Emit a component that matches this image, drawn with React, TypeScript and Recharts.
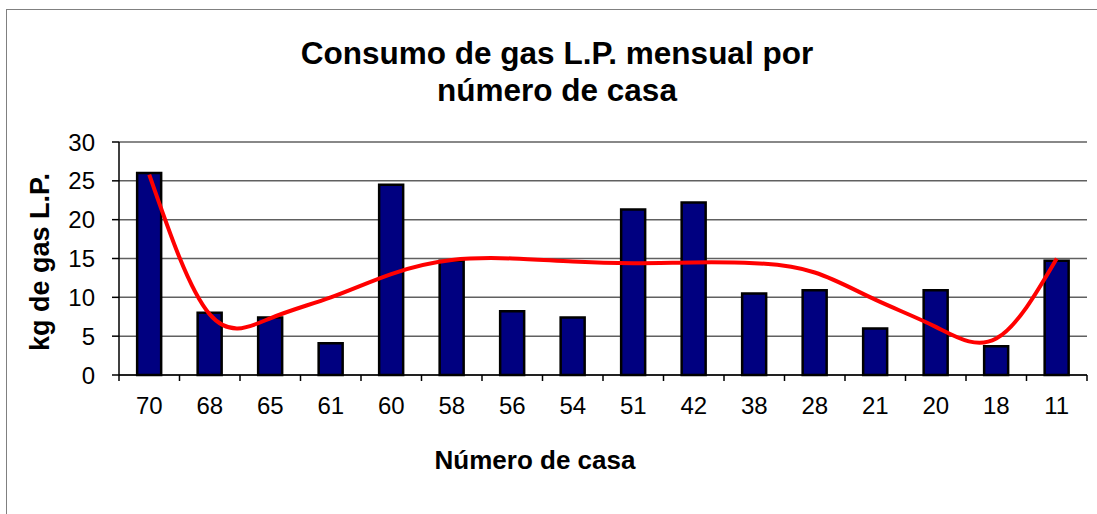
import React from 'react';
import { ComposedChart, Bar, Line, XAxis, YAxis, CartesianGrid } from 'recharts';

const casas = ['70', '68', '65', '61', '60', '58', '56', '54', '51', '42', '38', '28', '21', '20', '18', '11'];
const consumo = [26, 8.0, 7.4, 4.1, 24.5, 14.7, 8.2, 7.4, 21.3, 22.2, 10.5, 10.9, 6.0, 10.9, 3.7, 14.7];
const tendencia = [25.8, 7.8, 7.3, 10.0, 13.0, 14.8, 15.0, 14.6, 14.4, 14.5, 14.4, 13.2, 9.7, 6.2, 4.7, 15.0];
const yTicks = [0, 5, 10, 15, 20, 25, 30];

const data = casas.map((c, i) => ({ casa: c, consumo: consumo[i], tendencia: tendencia[i] }));

const FONT = '"Liberation Sans", Arial, sans-serif';

const CasaTick = (props: any) => {
  const { x, y, payload, index } = props;
  const half = payload && payload.offset ? payload.offset : 0;
  const isLast = index === casas.length - 1;
  return (
    <g>
      <line x1={x - half} x2={x - half} y1={y - 22} y2={y - 16} stroke="#000" strokeWidth={1.5} />
      {isLast ? <line x1={x + half} x2={x + half} y1={y - 22} y2={y - 16} stroke="#000" strokeWidth={1.5} /> : null}
      <text x={x} y={y} dy="0.71em" textAnchor="middle" fill="#000" fontSize={24} fontFamily={FONT}>
        {payload.value}
      </text>
    </g>
  );
};

export default function App() {
  return (
    <div style={{ position: 'absolute', left: 0, top: 0, width: 1097, height: 514, overflow: 'hidden', background: '#fff', fontFamily: FONT }}>
      <div style={{ position: 'absolute', left: 6, top: 9, width: 1200, height: 600, borderLeft: '1.5px solid #808080', borderTop: '1.5px solid #808080' }} />
      <div style={{ position: 'absolute', left: 0, top: 35, width: 1114, textAlign: 'center', fontWeight: 'bold', fontSize: 31.5, lineHeight: '37px', color: '#000' }}>
        Consumo de gas L.P. mensual por<br />número de casa
      </div>
      <div style={{ position: 'absolute', left: 335, top: 445, width: 400, textAlign: 'center', fontWeight: 'bold', fontSize: 26, lineHeight: '30px', color: '#000' }}>
        Número de casa
      </div>
      <div style={{ position: 'absolute', left: -110, top: 247, width: 300, height: 30, textAlign: 'center', fontWeight: 'bold', fontSize: 27, lineHeight: '30px', color: '#000', transform: 'rotate(-90deg)', transformOrigin: '150px 15px' }}>
        kg de gas L.P.
      </div>
      <div style={{ position: 'absolute', left: 0, top: 0 }}>
        <ComposedChart width={1097} height={514} data={data} margin={{ top: 142, right: 10, bottom: 79, left: 0 }} barCategoryGap="30%">
          <CartesianGrid horizontal={true} vertical={false} stroke="#606060" strokeWidth={1.5} yAxisId="left" xAxisId="cat" />
          <XAxis xAxisId="cat" dataKey="casa" height={60} tickSize={0} tickMargin={22} axisLine={{ stroke: '#000', strokeWidth: 1.5 }} tickLine={false} tick={<CasaTick />} interval={0} />
          <YAxis yAxisId="left" width={119} domain={[0, 30]} ticks={yTicks} tickSize={7} tickMargin={17} axisLine={{ stroke: '#000', strokeWidth: 1.5 }} tickLine={{ stroke: '#000', strokeWidth: 1.5 }} tick={{ fill: '#000', fontSize: 24, fontFamily: FONT }} interval={0} />
          <YAxis yAxisId="right" orientation="right" width={0} domain={[0, 30]} tick={false} tickLine={false} axisLine={{ stroke: '#808080', strokeWidth: 2 }} />
          <Bar xAxisId="cat" yAxisId="left" dataKey="consumo" fill="#000080" stroke="#000" strokeWidth={2.5} isAnimationActive={false} />
          <Line xAxisId="cat" yAxisId="left" dataKey="tendencia" type="natural" stroke="#ff0000" strokeWidth={4} dot={false} activeDot={false} isAnimationActive={false} />
        </ComposedChart>
      </div>
    </div>
  );
}
